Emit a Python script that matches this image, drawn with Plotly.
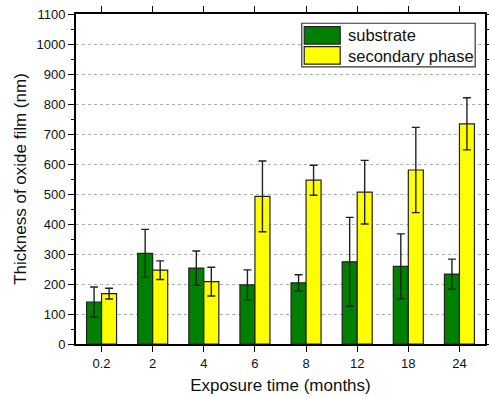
import plotly.graph_objects as go

months = ["0.2", "2", "4", "6", "8", "12", "18", "24"]
substrate = [140, 302, 253, 197, 204, 274, 259, 233]
substrate_err = [50, 80, 57, 50, 27, 148, 108, 50]
secondary = [168, 246, 208, 492, 546, 506, 580, 734]
secondary_err = [18, 31, 48, 118, 50, 106, 142, 87]
y_ticks = list(range(0, 1101, 100))

FONT = "Arial, Liberation Sans, sans-serif"
GREEN = "#008000"
YELLOW = "#ffff00"
EDGE = "#222222"

fig = go.Figure()
fig.add_trace(go.Bar(
    x=months, y=substrate, name="substrate",
    marker=dict(color=GREEN, line=dict(color=EDGE, width=1.2)),
    error_y=dict(type="data", array=substrate_err, color=EDGE, thickness=1.4, width=4),
    showlegend=False,
))
fig.add_trace(go.Bar(
    x=months, y=secondary, name="secondary phase",
    marker=dict(color=YELLOW, line=dict(color=EDGE, width=1.2)),
    error_y=dict(type="data", array=secondary_err, color=EDGE, thickness=1.4, width=4),
    showlegend=False,
))

fig.update_layout(
    width=489, height=398,
    margin=dict(l=76, r=4, t=14, b=54),
    paper_bgcolor="white", plot_bgcolor="white",
    barmode="group", bargap=0.413, bargroupgap=0,
    font=dict(family=FONT, size=13, color="#111"),
)
fig.update_xaxes(
    type="category", range=[-0.5, 7.5], automargin=False,
    showline=True, linecolor="black", linewidth=1.8, mirror="ticks",
    ticks="outside", ticklen=6, tickwidth=1.2, tickcolor="black",
    showgrid=False,
    tickfont=dict(size=13, family=FONT),
    title=dict(text="Exposure time (months)", font=dict(size=17, family=FONT), standoff=10),
)
fig.update_yaxes(
    range=[0, 1100], tickvals=y_ticks, automargin=False,
    showline=True, linecolor="black", linewidth=1.8, mirror="ticks",
    ticks="outside", ticklen=6, tickwidth=1.2, tickcolor="black",
    minor=dict(dtick=50, ticks="outside", ticklen=3, tickcolor="black", tickwidth=1, showgrid=False),
    showgrid=True, gridcolor="#b0b0b0", griddash="dot", gridwidth=1,
    zeroline=False,
    tickfont=dict(size=13, family=FONT),
    title=dict(text="Thickness of oxide film (nm)", font=dict(size=17, family=FONT), standoff=6),
)

# custom legend
fig.add_shape(type="rect", xref="paper", yref="paper", x0=0.552, x1=0.976, y0=0.840, y1=0.972,
              line=dict(color="#333", width=1.2), fillcolor="white")
fig.add_shape(type="rect", xref="paper", yref="paper", x0=0.558, x1=0.646, y0=0.909, y1=0.962,
              line=dict(color=EDGE, width=1.2), fillcolor=GREEN)
fig.add_shape(type="rect", xref="paper", yref="paper", x0=0.558, x1=0.646, y0=0.848, y1=0.901,
              line=dict(color=EDGE, width=1.2), fillcolor=YELLOW)
fig.add_annotation(xref="paper", yref="paper", x=0.660, y=0.935, text="substrate",
                   showarrow=False, xanchor="left", yanchor="middle", font=dict(size=16.5, family=FONT, color="#111"))
fig.add_annotation(xref="paper", yref="paper", x=0.660, y=0.874, text="secondary phase",
                   showarrow=False, xanchor="left", yanchor="middle", font=dict(size=16.5, family=FONT, color="#111"))

fig.write_html(
    "out.html",
    config={"displayModeBar": False},
    post_script="document.body.style.margin='0';document.body.style.overflow='hidden';",
)
